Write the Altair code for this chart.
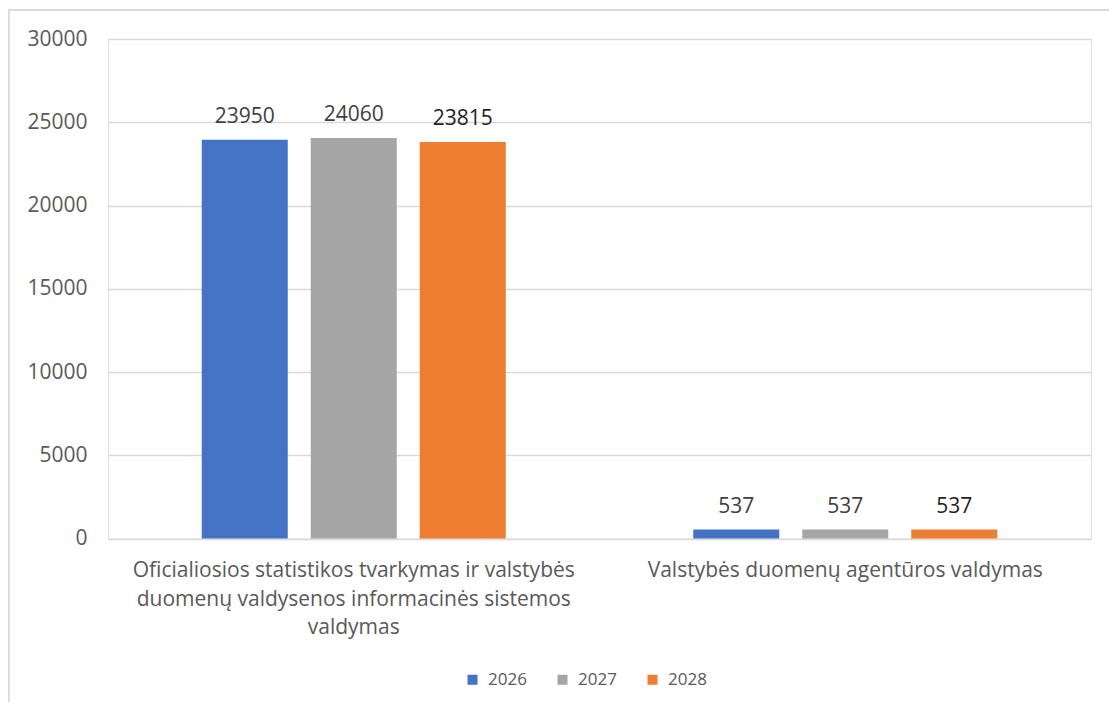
import altair as alt
import pandas as pd

categories = [
    "Oficialiosios statistikos tvarkymas ir valstybės duomenų valdysenos informacinės sistemos valdymas",
    "Valstybės duomenų agentūros valdymas",
]
category_lines = [
    ["Oficialiosios statistikos tvarkymas ir valstybės",
     "duomenų valdysenos informacinės sistemos",
     "valdymas"],
    ["Valstybės duomenų agentūros valdymas"],
]
years = ["2026", "2027", "2028"]
values_2026 = [23950, 537]
values_2027 = [24060, 537]
values_2028 = [23815, 537]
year_colors = ["#4472C4", "#A5A5A5", "#ED7D31"]
y_ticks = [0, 5000, 10000, 15000, 20000, 25000, 30000]

rows = []
for series_year, vals in zip(years, [values_2026, values_2027, values_2028]):
    for cat, v in zip(categories, vals):
        rows.append({"category": cat, "year": series_year, "value": v})
df = pd.DataFrame(rows)

# label expression mapping category -> list of lines
mapping = ", ".join(
    "'" + c + "': [" + ", ".join("'" + l + "'" for l in lines) + "]"
    for c, lines in zip(categories, category_lines)
)
label_expr = "{" + mapping + "}[datum.label]"

FONT = "Open Sans"

x_enc = alt.X(
    "category:N",
    sort=categories,
    scale=alt.Scale(paddingInner=0, paddingOuter=0),
    axis=alt.Axis(
        title=None, domain=False, ticks=False, labelAngle=0,
        labelExpr=label_expr, labelFontSize=21, labelColor="#595959",
        labelFont=FONT, labelPadding=21, labelLineHeight=28.5,
        labelBaseline="top", labelLimit=600,
    ),
)
xoff_enc = alt.XOffset(
    "year:N", sort=years,
    scale=alt.Scale(paddingInner=0.211, paddingOuter=0.86),
)
y_enc = alt.Y(
    "value:Q",
    scale=alt.Scale(domain=[0, 30000], nice=False),
    axis=alt.Axis(
        title=None, values=y_ticks, format="d", domain=False, ticks=False,
        grid=True, gridColor="#d9d9d9", gridWidth=1.3,
        labelFontSize=21, labelColor="#595959", labelFont=FONT, labelPadding=21,
    ),
)

bars = alt.Chart(df).mark_bar().encode(
    x=x_enc,
    xOffset=xoff_enc,
    y=y_enc,
    color=alt.Color(
        "year:N", sort=years,
        scale=alt.Scale(domain=years, range=year_colors),
        legend=alt.Legend(
            title=None, orient="none", direction="horizontal",
            legendX=356, legendY=632,
            symbolType="square", symbolSize=100, symbolStrokeWidth=0,
            labelFontSize=17, labelColor="#595959", labelFont=FONT,
            labelOffset=7, columnPadding=27,
        ),
    ),
)

labels = alt.Chart(df).mark_text(
    baseline="alphabetic", dy=-17, fontSize=21, font=FONT,
).encode(
    x=x_enc,
    xOffset=xoff_enc,
    y=y_enc,
    text=alt.Text("value:Q", format="d"),
    color=alt.condition(alt.datum.year == "2028", alt.value("#1f1f1f"), alt.value("#404040")),
)

border_left = alt.Chart(df).mark_rule(color="#d9d9d9", strokeWidth=1.5).encode(
    x=alt.value(-99.5), y=alt.value(-29.5), y2=alt.value(700),
)
border_top = alt.Chart(df).mark_rule(color="#d9d9d9", strokeWidth=1.5).encode(
    x=alt.value(-99.5), x2=alt.value(1020), y=alt.value(-29),
)

chart = alt.layer(bars, labels, border_left, border_top).properties(
    width=983,
    height=499.5,
    padding={"left": 100, "top": 31, "right": 18, "bottom": 163},
    autosize=alt.AutoSizeParams(type="none"),
).configure_view(stroke=None).configure(background="white")

chart.save("out.html", embed_options={"renderer": "svg", "actions": False})
